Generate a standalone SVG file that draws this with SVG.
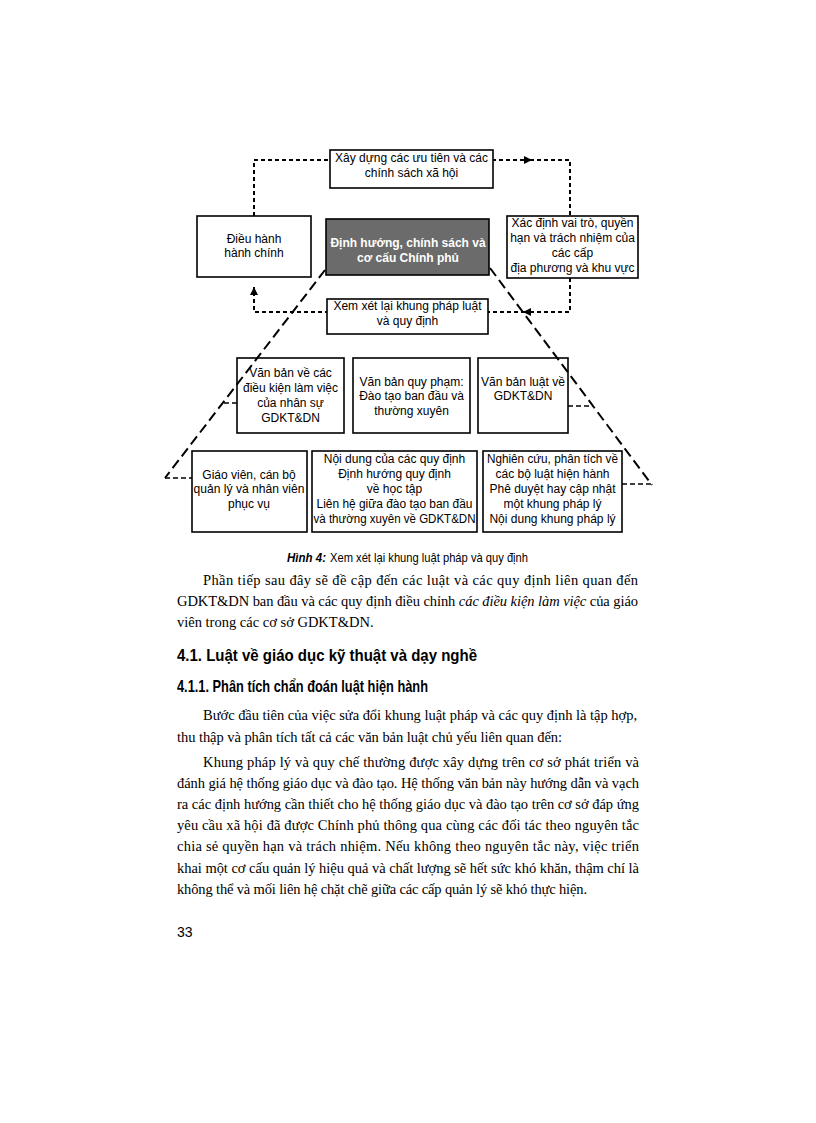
<svg xmlns="http://www.w3.org/2000/svg" width="816" height="1123" viewBox="0 0 816 1123">
<style>
.bg{fill:#fff}
.box{fill:#fff;stroke:#000;stroke-width:1.6}
.dark{fill:#6b6b6b;stroke:#000;stroke-width:1.6}
.lbl{font-family:"Liberation Sans",Arial,sans-serif;font-size:12px;text-anchor:middle;fill:#000}
.lblw{fill:#fff;font-weight:bold}
.loop{fill:none;stroke:#000;stroke-width:2;stroke-dasharray:4 3}
.diag{fill:none;stroke:#000;stroke-width:2;stroke-dasharray:10 5}
.tick{fill:none;stroke:#000;stroke-width:1.6;stroke-dasharray:5 3}
.body{font-family:"Liberation Serif","Times New Roman",serif;font-size:14.5px;fill:#000}
.h1{font-family:"Liberation Sans",Arial,sans-serif;font-size:16.5px;font-weight:bold;fill:#000}
.h2{font-family:"Liberation Sans",Arial,sans-serif;font-size:17px;font-weight:bold;fill:#000}
.cap{font-family:"Liberation Sans",Arial,sans-serif;font-size:13.5px;fill:#000}
.pg{font-family:"Liberation Sans",Arial,sans-serif;font-size:14px;fill:#000}
</style>
<defs>
<marker id="arr" viewBox="0 0 10 10" refX="10" refY="5" markerWidth="8" markerHeight="8" markerUnits="userSpaceOnUse" orient="auto">
<path d="M0,0 L10,5 L0,10 Z" fill="#000"/>
</marker>
</defs>
<rect class="bg" x="0" y="0" width="816" height="1123"/>

<g id="connectors">
<path class="loop" d="M254,216 V160 H532" marker-end="url(#arr)"/>
<path class="loop" d="M530,160 H570 V216"/>
<path class="loop" d="M570,278 V312 H523" marker-end="url(#arr)"/>
<path class="loop" d="M525,312 H254 V287" marker-end="url(#arr)"/>
</g>

<g id="n-top"><rect class="box" x="330" y="150" width="163" height="38"/>
<text class="lbl" x="411.5" y="162">Xây dựng các ưu tiên và các</text>
<text class="lbl" x="411.5" y="177">chính sách xã hội</text></g>

<g id="n-left"><rect class="box" x="197" y="216" width="114" height="61"/>
<text class="lbl" x="254" y="243">Điều hành</text>
<text class="lbl" x="254" y="257">hành chính</text></g>

<g id="n-center"><rect class="dark" x="326" y="219" width="163" height="56"/>
<text class="lbl lblw" x="408" y="247">Định hướng, chính sách và</text>
<text class="lbl lblw" x="408" y="262">cơ cấu Chính phủ</text></g>

<g id="n-right"><rect class="box" x="507" y="216" width="131" height="62"/>
<text class="lbl" x="572.5" y="227">Xác định vai trò, quyền</text>
<text class="lbl" x="572.5" y="242">hạn và trách nhiệm của</text>
<text class="lbl" x="572.5" y="257">các cấp</text>
<text class="lbl" x="572.5" y="272">địa phương và khu vực</text></g>

<g id="n-review"><rect class="box" x="327" y="299" width="161" height="35"/>
<text class="lbl" x="407.5" y="310">Xem xét lại khung pháp luật</text>
<text class="lbl" x="407.5" y="325">và quy định</text></g>

<g id="n-a"><rect class="box" x="237" y="358" width="107" height="75"/>
<text class="lbl" x="290.5" y="377">Văn bản về các</text>
<text class="lbl" x="290.5" y="392" textLength="95" lengthAdjust="spacingAndGlyphs">điều kiện làm việc</text>
<text class="lbl" x="290.5" y="407">của nhân sự</text>
<text class="lbl" x="290.5" y="422">GDKT&amp;DN</text></g>

<g id="n-b"><rect class="box" x="353" y="358" width="117" height="75"/>
<text class="lbl" x="411.5" y="386">Văn bản quy phạm:</text>
<text class="lbl" x="411.5" y="400">Đào tạo ban đầu và</text>
<text class="lbl" x="411.5" y="415">thường xuyên</text></g>

<g id="n-c"><rect class="box" x="478" y="358" width="90" height="75"/>
<text class="lbl" x="523" y="386" textLength="84" lengthAdjust="spacingAndGlyphs">Văn bản luật về</text>
<text class="lbl" x="523" y="400">GDKT&amp;DN</text></g>

<g id="n-d"><rect class="box" x="192" y="451" width="115" height="81"/>
<text class="lbl" x="249" y="479">Giáo viên, cán bộ</text>
<text class="lbl" x="249" y="493" textLength="111" lengthAdjust="spacingAndGlyphs">quản lý và nhân viên</text>
<text class="lbl" x="249" y="508">phục vụ</text></g>

<g id="n-e"><rect class="box" x="312" y="451" width="165" height="81"/>
<text class="lbl" x="394.5" y="463">Nội dung của các quy định</text>
<text class="lbl" x="394.5" y="478">Định hướng quy định</text>
<text class="lbl" x="394.5" y="493">về học tập</text>
<text class="lbl" x="394.5" y="508" textLength="156" lengthAdjust="spacingAndGlyphs">Liên hệ giữa đào tạo ban đầu</text>
<text class="lbl" x="394.5" y="523" textLength="162" lengthAdjust="spacingAndGlyphs">và thường xuyên về GDKT&amp;DN</text></g>

<g id="n-f"><rect class="box" x="483" y="451" width="139" height="81"/>
<text class="lbl" x="552.5" y="463" textLength="131" lengthAdjust="spacingAndGlyphs">Nghiên cứu, phân tích về</text>
<text class="lbl" x="552.5" y="478">các bộ luật hiện hành</text>
<text class="lbl" x="552.5" y="493">Phê duyệt hay cập nhật</text>
<text class="lbl" x="552.5" y="508">một khung pháp lý</text>
<text class="lbl" x="552.5" y="523">Nội dung khung pháp lý</text></g>

<g id="pyramid">
<path class="diag" d="M325,270 L165,478"/>
<path class="diag" d="M490,268 L652,485"/>
<path class="tick" d="M224,403 H237"/>
<path class="tick" d="M568,406 H593"/>
<path class="tick" d="M165,478 H192"/>
<path class="tick" d="M622,484 H652"/>
</g>

<g id="caption">
<text class="cap" x="287" y="562" textLength="39" lengthAdjust="spacingAndGlyphs" font-weight="bold" font-style="italic">Hình 4:</text>
<text class="cap" x="330" y="562" textLength="198" lengthAdjust="spacingAndGlyphs">Xem xét lại khung luật pháp và quy định</text>
</g>

<g id="body-text">
<text class="body" x="203" y="585" textLength="435" lengthAdjust="spacing">Phần tiếp sau đây sẽ đề cập đến các luật và các quy định liên quan đến</text>
<text class="body" x="177" y="606" textLength="461" lengthAdjust="spacing">GDKT&amp;DN ban đầu và các quy định điều chỉnh <tspan font-style="italic">các điều kiện làm việc</tspan> của giáo</text>
<text class="body" x="177" y="627">viên trong các cơ sở GDKT&amp;DN.</text>
<text class="h1" x="177" y="661" textLength="300" lengthAdjust="spacingAndGlyphs">4.1. Luật về giáo dục kỹ thuật và dạy nghề</text>
<text class="h2" x="177" y="692" textLength="251" lengthAdjust="spacingAndGlyphs">4.1.1. Phân tích chẩn đoán luật hiện hành</text>
<text class="body" x="203" y="720" textLength="434" lengthAdjust="spacing">Bước đầu tiên của việc sửa đổi khung luật pháp và các quy định là tập hợp,</text>
<text class="body" x="177" y="742" textLength="385" lengthAdjust="spacing">thu thập và phân tích tất cả các văn bản luật chủ yếu liên quan đến:</text>
<text class="body" x="203" y="767" textLength="436" lengthAdjust="spacing">Khung pháp lý và quy chế thường được xây dựng trên cơ sở phát triển và</text>
<text class="body" x="177" y="788" textLength="462" lengthAdjust="spacing">đánh giá hệ thống giáo dục và đào tạo. Hệ thống văn bản này hướng dẫn và vạch</text>
<text class="body" x="177" y="809" textLength="462" lengthAdjust="spacing">ra các định hướng cần thiết cho hệ thống giáo dục và đào tạo trên cơ sở đáp ứng</text>
<text class="body" x="177" y="830" textLength="462" lengthAdjust="spacing">yêu cầu xã hội đã được Chính phủ thông qua cùng các đối tác theo nguyên tắc</text>
<text class="body" x="177" y="851" textLength="462" lengthAdjust="spacing">chia sẻ quyền hạn và trách nhiệm. Nếu không theo nguyên tắc này, việc triển</text>
<text class="body" x="177" y="873" textLength="462" lengthAdjust="spacing">khai một cơ cấu quản lý hiệu quả và chất lượng sẽ hết sức khó khăn, thậm chí là</text>
<text class="body" x="177" y="894" textLength="410" lengthAdjust="spacing">không thể và mối liên hệ chặt chẽ giữa các cấp quản lý sẽ khó thực hiện.</text>
<text class="pg" x="177" y="937">33</text>
</g>
</svg>
